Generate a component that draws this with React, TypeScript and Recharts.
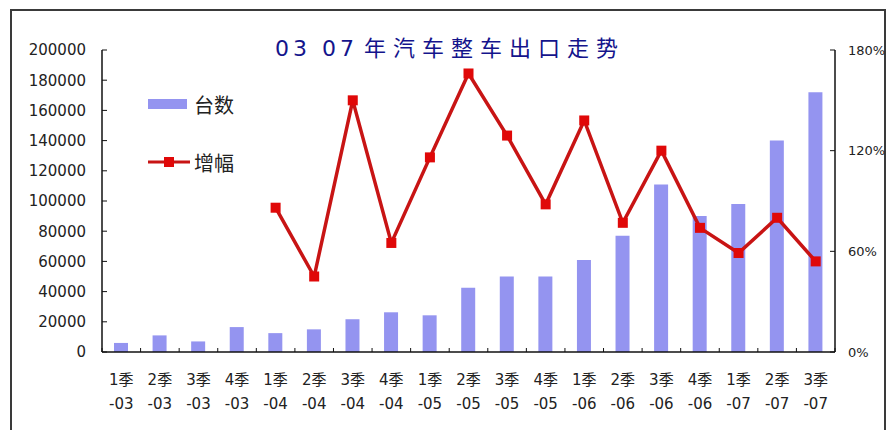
import {
  ComposedChart,
  Bar,
  Line,
  XAxis,
  YAxis,
} from "recharts";

// quarters 2003 - 2007
const quarters = [
  "1季-03", "2季-03", "3季-03", "4季-03",
  "1季-04", "2季-04", "3季-04", "4季-04",
  "1季-05", "2季-05", "3季-05", "4季-05",
  "1季-06", "2季-06", "3季-06", "4季-06",
  "1季-07", "2季-07", "3季-07",
];

// 台数 (units exported)
const units = [
  6000, 11000, 7000, 16500,
  12500, 15000, 21700, 26300,
  24300, 42500, 50000, 50000,
  61000, 77000, 111000, 90000,
  98000, 140000, 172000,
];

// 增幅 (growth, %)
const growth: (number | null)[] = [
  null, null, null, null,
  86, 45, 150, 65,
  116, 166, 129, 88,
  138, 77, 120, 74,
  59, 80, 54,
];

const leftTicks = [0, 20000, 40000, 60000, 80000, 100000, 120000, 140000, 160000, 180000, 200000];
const rightTicks = [0, 60, 120, 180];

const C = {
  bar: "#9494f0",
  line: "#c81414",
  marker: "#e00808",
  axis: "#111",
  text: "#222",
  title: "#14148c",
};

const data = quarters.map((q, i) => ({ q, units: units[i], growth: growth[i] }));

const font = "'DejaVu Sans', 'Noto Sans CJK SC', sans-serif";

function QuarterTick(props: any) {
  const { x, y, payload, index, width, visibleTicksCount } = props;
  const band = width / visibleTicksCount;
  const [top, bottom] = String(payload.value).split(/(?=-)/);
  return (
    <g>
      <line x1={x + band / 2} x2={x + band / 2} y1={y} y2={y - 4} stroke={C.axis} />
      {index === 0 && (
        <line x1={x - band / 2} x2={x - band / 2} y1={y} y2={y - 4} stroke={C.axis} />
      )}
      <text x={x} y={y} textAnchor="middle" fontSize={15} fill={C.text} fontFamily={font}>
        <tspan x={x} dy={33}>{top}</tspan>
        <tspan x={x} dy={24}>{bottom}</tspan>
      </text>
    </g>
  );
}

function SquareDot(props: any) {
  const { cx, cy, index } = props;
  if (cy == null || isNaN(cy)) return <g key={index} />;
  return <rect key={index} x={cx - 5} y={cy - 5} width={10} height={10} fill={C.marker} />;
}

function LegendBox() {
  return (
    <div
      style={{
        position: "absolute",
        left: 148,
        top: 92,
        fontFamily: font,
        fontSize: 20,
        color: C.text,
      }}
    >
      <div style={{ display: "flex", alignItems: "center", height: 24 }}>
        <svg width={46} height={24}>
          <rect x={0} y={7} width={39} height={10} fill={C.bar} />
        </svg>
        <span>台数</span>
      </div>
      <div style={{ display: "flex", alignItems: "center", height: 24, marginTop: 34 }}>
        <svg width={46} height={24}>
          <line x1={0} x2={42} y1={12} y2={12} stroke={C.line} strokeWidth={3} />
          <rect x={16} y={7} width={10} height={10} fill={C.marker} />
        </svg>
        <span>增幅</span>
      </div>
    </div>
  );
}

export default function App() {
  return (
    <div
      style={{
        position: "absolute",
        left: 0,
        top: 0,
        width: 887,
        height: 430,
        background: "#fff",
        overflow: "hidden",
      }}
    >
      <div
        style={{
          position: "absolute",
          left: 10,
          top: 9,
          width: 872,
          height: 440,
          border: "2px solid #3a3a3a",
        }}
      />
      <ComposedChart
        width={887}
        height={430}
        data={data}
        margin={{ top: 50, right: 0, bottom: 0, left: 0 }}
        style={{ position: "absolute", left: 0, top: 0 }}
      >
        <XAxis
          dataKey="q"
          height={78}
          interval={0}
          tickLine={false}
          tickSize={0}
          tickMargin={0}
          tick={<QuarterTick />}
          axisLine={{ stroke: C.axis, strokeWidth: 1.5 }}
        />
        <YAxis
          yAxisId="left"
          width={102}
          domain={[0, 200000]}
          ticks={leftTicks}
          interval={0}
          tickSize={-5}
          tickMargin={21}
          tick={{ fontSize: 15, fill: C.text, fontFamily: font }}
          axisLine={{ stroke: C.axis, strokeWidth: 1.5 }}
          tickLine={{ stroke: C.axis }}
        />
        <YAxis
          yAxisId="right"
          orientation="right"
          width={52}
          domain={[0, 180]}
          ticks={rightTicks}
          interval={0}
          tickSize={-5}
          tickMargin={18}
          tickFormatter={(v: number) => `${v}%`}
          tick={{ fontSize: 13, fill: C.text, fontFamily: font }}
          axisLine={{ stroke: C.axis, strokeWidth: 1.5 }}
          tickLine={{ stroke: C.axis }}
        />
        <Bar
          yAxisId="left"
          dataKey="units"
          fill={C.bar}
          barSize={14}
          isAnimationActive={false}
        />
        <Line
          yAxisId="right"
          dataKey="growth"
          type="linear"
          stroke={C.line}
          strokeWidth={3.5}
          dot={<SquareDot />}
          activeDot={false}
          isAnimationActive={false}
        />
      </ComposedChart>
      <div
        style={{
          position: "absolute",
          left: 275,
          top: 30,
          fontFamily: font,
          fontSize: 22,
          color: C.title,
          whiteSpace: "nowrap",
        }}
      >
        <span style={{ letterSpacing: 4 }}>03 07</span>
        <span style={{ letterSpacing: 7, marginLeft: 6 }}>年汽车整车出口走势</span>
      </div>
      <LegendBox />
    </div>
  );
}
